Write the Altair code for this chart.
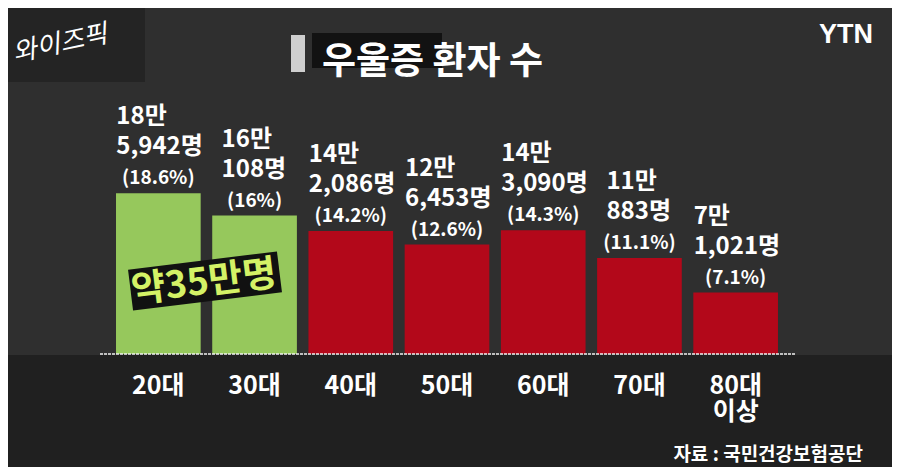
import altair as alt
import pandas as pd

ages = ["20대", "30대", "40대", "50대", "60대", "70대", "80대"]
age_labels = ["20대", "30대", "40대", "50대", "60대", "70대", "80대\n이상"]
counts = [185942, 160108, 142086, 126453, 143090, 110883, 71021]
line1 = ["18만", "16만", "14만", "12만", "14만", "11만", "7만"]
line2 = ["5,942명", "108명", "2,086명", "6,453명", "3,090명", "883명", "1,021명"]
pcts = ["(18.6%)", "(16%)", "(14.2%)", "(12.6%)", "(14.3%)", "(11.1%)", "(7.1%)"]
groups = ["2030", "2030", "etc", "etc", "etc", "etc", "etc"]

title_text = "우울증 환자 수"
brand = "YTN"
logo = "와이즈픽"
callout = "약35만명"
source = "자료 : 국민건강보험공단"

df = pd.DataFrame({
    "age": ages, "label": age_labels, "count": counts,
    "l1": line1, "l2": line2, "pct": pcts, "grp": groups,
})

FONT = "Noto Sans CJK KR"
GREEN = "#96c85c"
RED = "#b3081a"
BG = "#2f2f2f"

# plot-area origin sits at page (106, 8)
def px(x):
    return x - 106

def py(y):
    return y - 8

xenc = alt.X("age:N", sort=ages, axis=None,
             scale=alt.Scale(paddingInner=0.12, paddingOuter=0.104))
yenc = alt.Y("count:Q", axis=None, scale=alt.Scale(domain=[0, 400000]))

base = alt.Chart(df)
deco = base.transform_filter("datum.age == '20대'")

lower_band = deco.mark_rect(color="#202020").encode(
    x=alt.value(-110), x2=alt.value(800), y=alt.value(py(355)), y2=alt.value(py(480))
)
logo_patch = deco.mark_rect(color="#242424").encode(
    x=alt.value(px(0)), x2=alt.value(px(145)), y=alt.value(py(0)), y2=alt.value(py(82))
)

bars = base.mark_bar().encode(
    x=xenc, y=yenc,
    color=alt.Color("grp:N", scale=alt.Scale(domain=["2030", "etc"], range=[GREEN, RED]), legend=None),
)

baseline = deco.mark_rule(color="#f0f0f0", strokeWidth=1.5, strokeDash=[3, 1]).encode(
    y=alt.value(py(354)), x=alt.value(px(100)), x2=alt.value(px(795))
)

wide = "length(datum.l2) >= 6"
narrow = "length(datum.l2) < 6"

def block(filter_expr, field, dx, dy):
    return base.transform_filter(filter_expr).mark_text(
        font=FONT, fontWeight="bold", fontSize=24, color="white",
        align="left", baseline="middle", dx=dx, dy=dy,
    ).encode(x=xenc, y=yenc, text=f"{field}:N")

l1w = block(wide, "l1", -42, -76)
l2w = block(wide, "l2", -42, -46)
l1n = block(narrow, "l1", -33, -76)
l2n = block(narrow, "l2", -33, -46)

pct_text = base.mark_text(
    font=FONT, fontWeight="bold", fontSize=19, color="white",
    align="center", baseline="middle", dy=-15,
).encode(x=xenc, y=yenc, text="pct:N")

xlabels = base.mark_text(
    font=FONT, fontWeight="bold", fontSize=25, color="white",
    align="center", baseline="middle", lineBreak="\n", lineHeight=26,
).encode(x=xenc, y=alt.value(py(386)), text="label:N")

callout_box = deco.mark_point(
    shape="M-1,-0.275L1,-0.275L1,0.275L-1,0.275Z", filled=True, color="#111111",
    opacity=1, size=22500, angle=353,
).encode(x=alt.value(px(205)), y=alt.value(py(281)))

callout_text = deco.mark_text(
    font=FONT, fontWeight="bold", fontSize=37, color="#d4f266",
    align="center", baseline="middle", angle=353,
).encode(x=alt.value(px(204)), y=alt.value(py(283)), text=alt.value(callout))

title_band = deco.mark_rect(color="#121212").encode(
    x=alt.value(px(312)), x2=alt.value(px(442)), y=alt.value(py(33)), y2=alt.value(py(68))
)
paper = deco.mark_rect(color="#cfcfcf").encode(
    x=alt.value(px(291)), x2=alt.value(px(305)), y=alt.value(py(35)), y2=alt.value(py(72))
)
title = deco.mark_text(
    font=FONT, fontWeight="bold", fontSize=37, color="white",
    align="left", baseline="middle",
).encode(x=alt.value(px(322)), y=alt.value(py(63)), text=alt.value(title_text))

ytn = deco.mark_text(
    font="Liberation Sans", fontWeight="bold", fontSize=27, color="white",
    align="center", baseline="middle",
).encode(x=alt.value(px(846)), y=alt.value(py(35)), text=alt.value(brand))

logo_text = deco.mark_text(
    font=FONT, fontStyle="italic", fontSize=26, color="white",
    align="center", baseline="middle", angle=348,
).encode(x=alt.value(px(60)), y=alt.value(py(44)), text=alt.value(logo))

src = deco.mark_text(
    font=FONT, fontWeight="bold", fontSize=19, color="white",
    align="right", baseline="middle",
).encode(x=alt.value(px(863)), y=alt.value(py(455)), text=alt.value(source))

chart = alt.layer(
    lower_band, logo_patch, bars, baseline, l1w, l2w, l1n, l2n, pct_text, xlabels,
    callout_box, callout_text, title_band, paper, title, ytn, logo_text, src,
).properties(
    width=682, height=346,
    autosize=alt.AutoSizeParams(type="none"),
    padding={"left": 98, "top": 0, "right": 104, "bottom": 113},
    background=BG,
).configure_view(strokeWidth=0)

chart.save("out.html", embed_options={"renderer": "svg", "actions": False})
